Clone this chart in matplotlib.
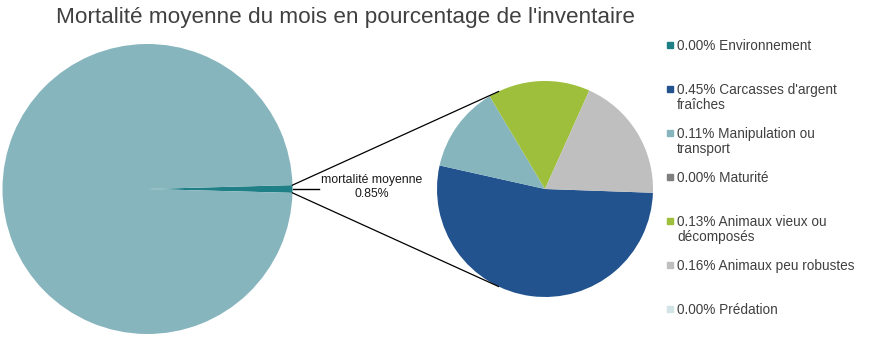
import textwrap
import numpy as np
import matplotlib.pyplot as plt

plt.rcParams['font.family'] = ['Liberation Sans', 'DejaVu Sans']

# data
title = "Mortalité moyenne du mois en pourcentage de l'inventaire"
categories = ["Environnement", "Carcasses d'argent fraîches", "Manipulation ou transport",
              "Maturité", "Animaux vieux ou décomposés", "Animaux peu robustes", "Prédation"]
values = [0.00, 0.45, 0.11, 0.00, 0.13, 0.16, 0.00]
colors = ["#1f7f86", "#22538f", "#87b5bd", "#7f7f7f", "#9ebf3c", "#bfbfbf", "#d3e4e6"]
mortality_total = 0.85
inventory_total = 100.0
main_colors = ["#1f7f86", "#87b5bd"]
center_label = "mortalité moyenne"

W, H = 869, 339
fig = plt.figure(figsize=(W / 100, H / 100), dpi=100)
ax = fig.add_axes([0, 0, 1, 1])

# big pie (mortality slice centred on the right)
big_c, big_r = (147.5, H - 189), 145
half = mortality_total / inventory_total * 360 / 2
ax.pie([mortality_total, inventory_total - mortality_total], colors=main_colors,
       center=big_c, radius=big_r, startangle=-half)

# small pie (breakdown)
small_c, small_r = (545, H - 189), 108
ax.pie(values, colors=colors, center=small_c, radius=small_r,
       startangle=-2, counterclock=False)

# connector lines
t = np.deg2rad(half)
a = np.deg2rad(115.5)
for s in (1, -1):
    x0 = big_c[0] + big_r * np.cos(t)
    y0 = big_c[1] + s * big_r * np.sin(t)
    x1 = small_c[0] + small_r * np.cos(a)
    y1 = small_c[1] + s * small_r * np.sin(a)
    ax.plot([x0, x1], [y0, y1], color="black", lw=0.9)
ax.plot([big_c[0] + big_r, 319], [big_c[1], big_c[1]], color="black", lw=1.0)
ax.text(372, H - 187, f"{center_label}\n{mortality_total:.2f}%", ha="center", va="center",
        fontsize=8.8, color="#1a1a1a", linespacing=1.2)

ax.set_xlim(0, W)
ax.set_ylim(0, H)
ax.set_aspect("equal")
ax.axis("off")

# title
fig.text(345.5 / W, 1 - 18 / H, title, ha="center", va="center", fontsize=16.2, color="#404040")

# legend
for i, (name, v, c) in enumerate(zip(categories, values, colors)):
    y = 45 + i * 44
    fig.patches.append(plt.Rectangle((667 / W, 1 - (y + 3) / H), 6 / W, 6 / H,
                                     transform=fig.transFigure, color=c))
    label = "\n".join(textwrap.wrap(f"{v:.2f}% {name}", 26))
    fig.text(677 / W, 1 - (y - 6) / H, label, ha="left", va="top", fontsize=9.8,
             color="#404040", linespacing=1.1)

fig.savefig("out.png", dpi=100)
